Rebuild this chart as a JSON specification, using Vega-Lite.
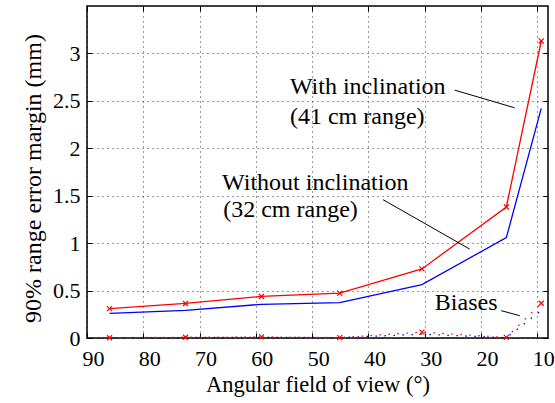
{
  "$schema": "https://vega.github.io/schema/vega-lite/v6.json",
  "width": 461,
  "height": 332,
  "autosize": "none",
  "padding": {"left": 87, "top": 6, "right": 7, "bottom": 65},
  "background": "white",
  "config": {
    "view": {"stroke": "black", "strokeWidth": 1.5},
    "font": "Liberation Serif",
    "axis": {"labelFont": "Liberation Serif", "titleFont": "Liberation Serif", "labelColor": "black", "titleColor": "black", "titleFontWeight": "normal", "tickColor": "black", "domain": false}
  },
  "datasets": {
    "main": [
      {"fov": 86.0, "series": "With", "v": 0.309},
      {"fov": 72.5, "series": "With", "v": 0.364},
      {"fov": 59.0, "series": "With", "v": 0.438},
      {"fov": 45.1, "series": "With", "v": 0.473},
      {"fov": 30.5, "series": "With", "v": 0.728},
      {"fov": 15.5, "series": "With", "v": 1.381},
      {"fov": 9.3, "series": "With", "v": 3.131},
      {"fov": 86.0, "series": "Without", "v": 0.260},
      {"fov": 72.5, "series": "Without", "v": 0.292},
      {"fov": 59.0, "series": "Without", "v": 0.355},
      {"fov": 45.1, "series": "Without", "v": 0.372},
      {"fov": 30.5, "series": "Without", "v": 0.562},
      {"fov": 15.5, "series": "Without", "v": 1.059},
      {"fov": 9.3, "series": "Without", "v": 2.42}
    ],
    "bias": [
      {"fov": 86.0, "series": "With", "v": 0.003},
      {"fov": 72.5, "series": "With", "v": 0.008},
      {"fov": 59.0, "series": "With", "v": 0.012},
      {"fov": 45.1, "series": "With", "v": 0.004},
      {"fov": 30.5, "series": "With", "v": 0.062},
      {"fov": 15.5, "series": "With", "v": 0.006},
      {"fov": 9.3, "series": "With", "v": 0.366},
      {"fov": 86.0, "series": "Without", "v": 0.0},
      {"fov": 72.5, "series": "Without", "v": 0.005},
      {"fov": 59.0, "series": "Without", "v": 0.008},
      {"fov": 45.1, "series": "Without", "v": 0.004},
      {"fov": 30.5, "series": "Without", "v": 0.04},
      {"fov": 15.5, "series": "Without", "v": 0.003},
      {"fov": 9.3, "series": "Without", "v": 0.29}
    ],
    "notes": [
      {"x": 53.95, "y": 2.642, "label": "With inclination"},
      {"x": 53.95, "y": 2.335, "label": "(41 cm range)"},
      {"x": 66.0, "y": 1.637, "label": "Without inclination"},
      {"x": 65.8, "y": 1.352, "label": "(32 cm range)"},
      {"x": 28.2, "y": 0.369, "label": "Biases"}
    ],
    "leaders": [
      {"x": 24.68, "y": 2.613, "x2": 14.03, "y2": 2.427},
      {"x": 37.4, "y": 1.458, "x2": 22.0, "y2": 0.937},
      {"x": 16.4, "y": 0.288, "x2": 13.1, "y2": 0.235}
    ]
  },
  "layer": [
    {
      "data": {"name": "main"},
      "mark": {"type": "line", "strokeWidth": 1.3},
      "encoding": {
        "x": {"field": "fov", "type": "quantitative", "scale": {"domain": [8.1, 90], "reverse": true, "nice": false, "zero": false},
          "axis": {"orient": "bottom", "values": [10, 20, 30, 40, 50, 60, 70, 80, 90], "tickSize": -5, "labelFontSize": 22, "labelPadding": 15, "labelOffset": 6, "labelFlush": false, "title": "Angular field of view (°)", "titleFontSize": 22.5, "titlePadding": 4, "grid": true, "gridColor": "black", "gridDash": [1, 4], "gridWidth": 1, "gridOpacity": 0.8}},
        "y": {"field": "v", "type": "quantitative", "scale": {"domain": [0, 3.5], "nice": false},
          "axis": {"orient": "left", "values": [0, 0.5, 1, 1.5, 2, 2.5, 3], "format": ".1~f", "tickSize": -5, "labelFontSize": 22, "labelPadding": 12, "labelFlush": false, "title": "90% range error margin (mm)", "titleFontSize": 24, "titlePadding": 7, "titleY": 172, "grid": true, "gridColor": "black", "gridDash": [1, 4], "gridWidth": 1, "gridOpacity": 0.8}},
        "color": {"field": "series", "type": "nominal", "scale": {"domain": ["With", "Without"], "range": ["#ff0000", "#0000ff"]}, "legend": null}
      }
    },
    {
      "data": {"name": "main"},
      "transform": [{"filter": "datum.series == 'With'"}],
      "mark": {"type": "point", "shape": "M-1,-1L1,1M-1,1L1,-1", "filled": false, "stroke": "#ff0000", "strokeWidth": 1.2, "size": 25, "opacity": 1},
      "encoding": {
        "x": {"field": "fov", "type": "quantitative", "scale": {"domain": [8.1, 90], "reverse": true, "nice": false, "zero": false},
          "axis": {"orient": "top", "values": [10, 20, 30, 40, 50, 60, 70, 80, 90], "tickSize": -5, "labels": false, "title": null, "grid": false}},
        "y": {"field": "v", "type": "quantitative", "scale": {"domain": [0, 3.5], "nice": false},
          "axis": {"orient": "right", "values": [0, 0.5, 1, 1.5, 2, 2.5, 3], "tickSize": -5, "labels": false, "title": null, "grid": false}}
      }
    },
    {
      "data": {"name": "bias"},
      "transform": [{"filter": "datum.series == 'Without'"}],
      "mark": {"type": "line", "stroke": "#0000ff", "strokeWidth": 1.3, "strokeDash": [1.5, 7.5], "strokeDashOffset": 4},
      "encoding": {
        "x": {"field": "fov", "type": "quantitative", "scale": {"domain": [8.1, 90], "reverse": true, "nice": false, "zero": false}, "axis": null},
        "y": {"field": "v", "type": "quantitative", "scale": {"domain": [0, 3.5], "nice": false}, "axis": null}
      }
    },
    {
      "data": {"name": "bias"},
      "transform": [{"filter": "datum.series == 'With'"}],
      "mark": {"type": "line", "stroke": "#ff0000", "strokeWidth": 1.3, "strokeDash": [1.5, 7.5]},
      "encoding": {
        "x": {"field": "fov", "type": "quantitative", "scale": {"domain": [8.1, 90], "reverse": true, "nice": false, "zero": false}, "axis": null},
        "y": {"field": "v", "type": "quantitative", "scale": {"domain": [0, 3.5], "nice": false}, "axis": null}
      }
    },
    {
      "data": {"name": "bias"},
      "transform": [{"filter": "datum.series == 'With'"}],
      "mark": {"type": "point", "shape": "M-1,-1L1,1M-1,1L1,-1", "filled": false, "stroke": "#ff0000", "strokeWidth": 1.2, "size": 25, "opacity": 1},
      "encoding": {
        "x": {"field": "fov", "type": "quantitative", "scale": {"domain": [8.1, 90], "reverse": true, "nice": false, "zero": false}, "axis": null},
        "y": {"field": "v", "type": "quantitative", "scale": {"domain": [0, 3.5], "nice": false}, "axis": null}
      }
    },
    {
      "data": {"name": "leaders"},
      "mark": {"type": "rule", "stroke": "black", "strokeWidth": 1},
      "encoding": {
        "x": {"field": "x", "type": "quantitative", "scale": {"domain": [8.1, 90], "reverse": true, "nice": false, "zero": false}, "axis": null},
        "y": {"field": "y", "type": "quantitative", "scale": {"domain": [0, 3.5], "nice": false}, "axis": null},
        "x2": {"field": "x2"},
        "y2": {"field": "y2"}
      }
    },
    {
      "data": {"name": "notes"},
      "mark": {"type": "text", "align": "left", "baseline": "middle", "font": "Liberation Serif", "fontSize": 24, "color": "black"},
      "encoding": {
        "x": {"field": "x", "type": "quantitative", "scale": {"domain": [8.1, 90], "reverse": true, "nice": false, "zero": false}, "axis": null},
        "y": {"field": "y", "type": "quantitative", "scale": {"domain": [0, 3.5], "nice": false}, "axis": null},
        "text": {"field": "label"}
      }
    }
  ],
  "resolve": {"axis": {"x": "independent", "y": "independent"}}
}
